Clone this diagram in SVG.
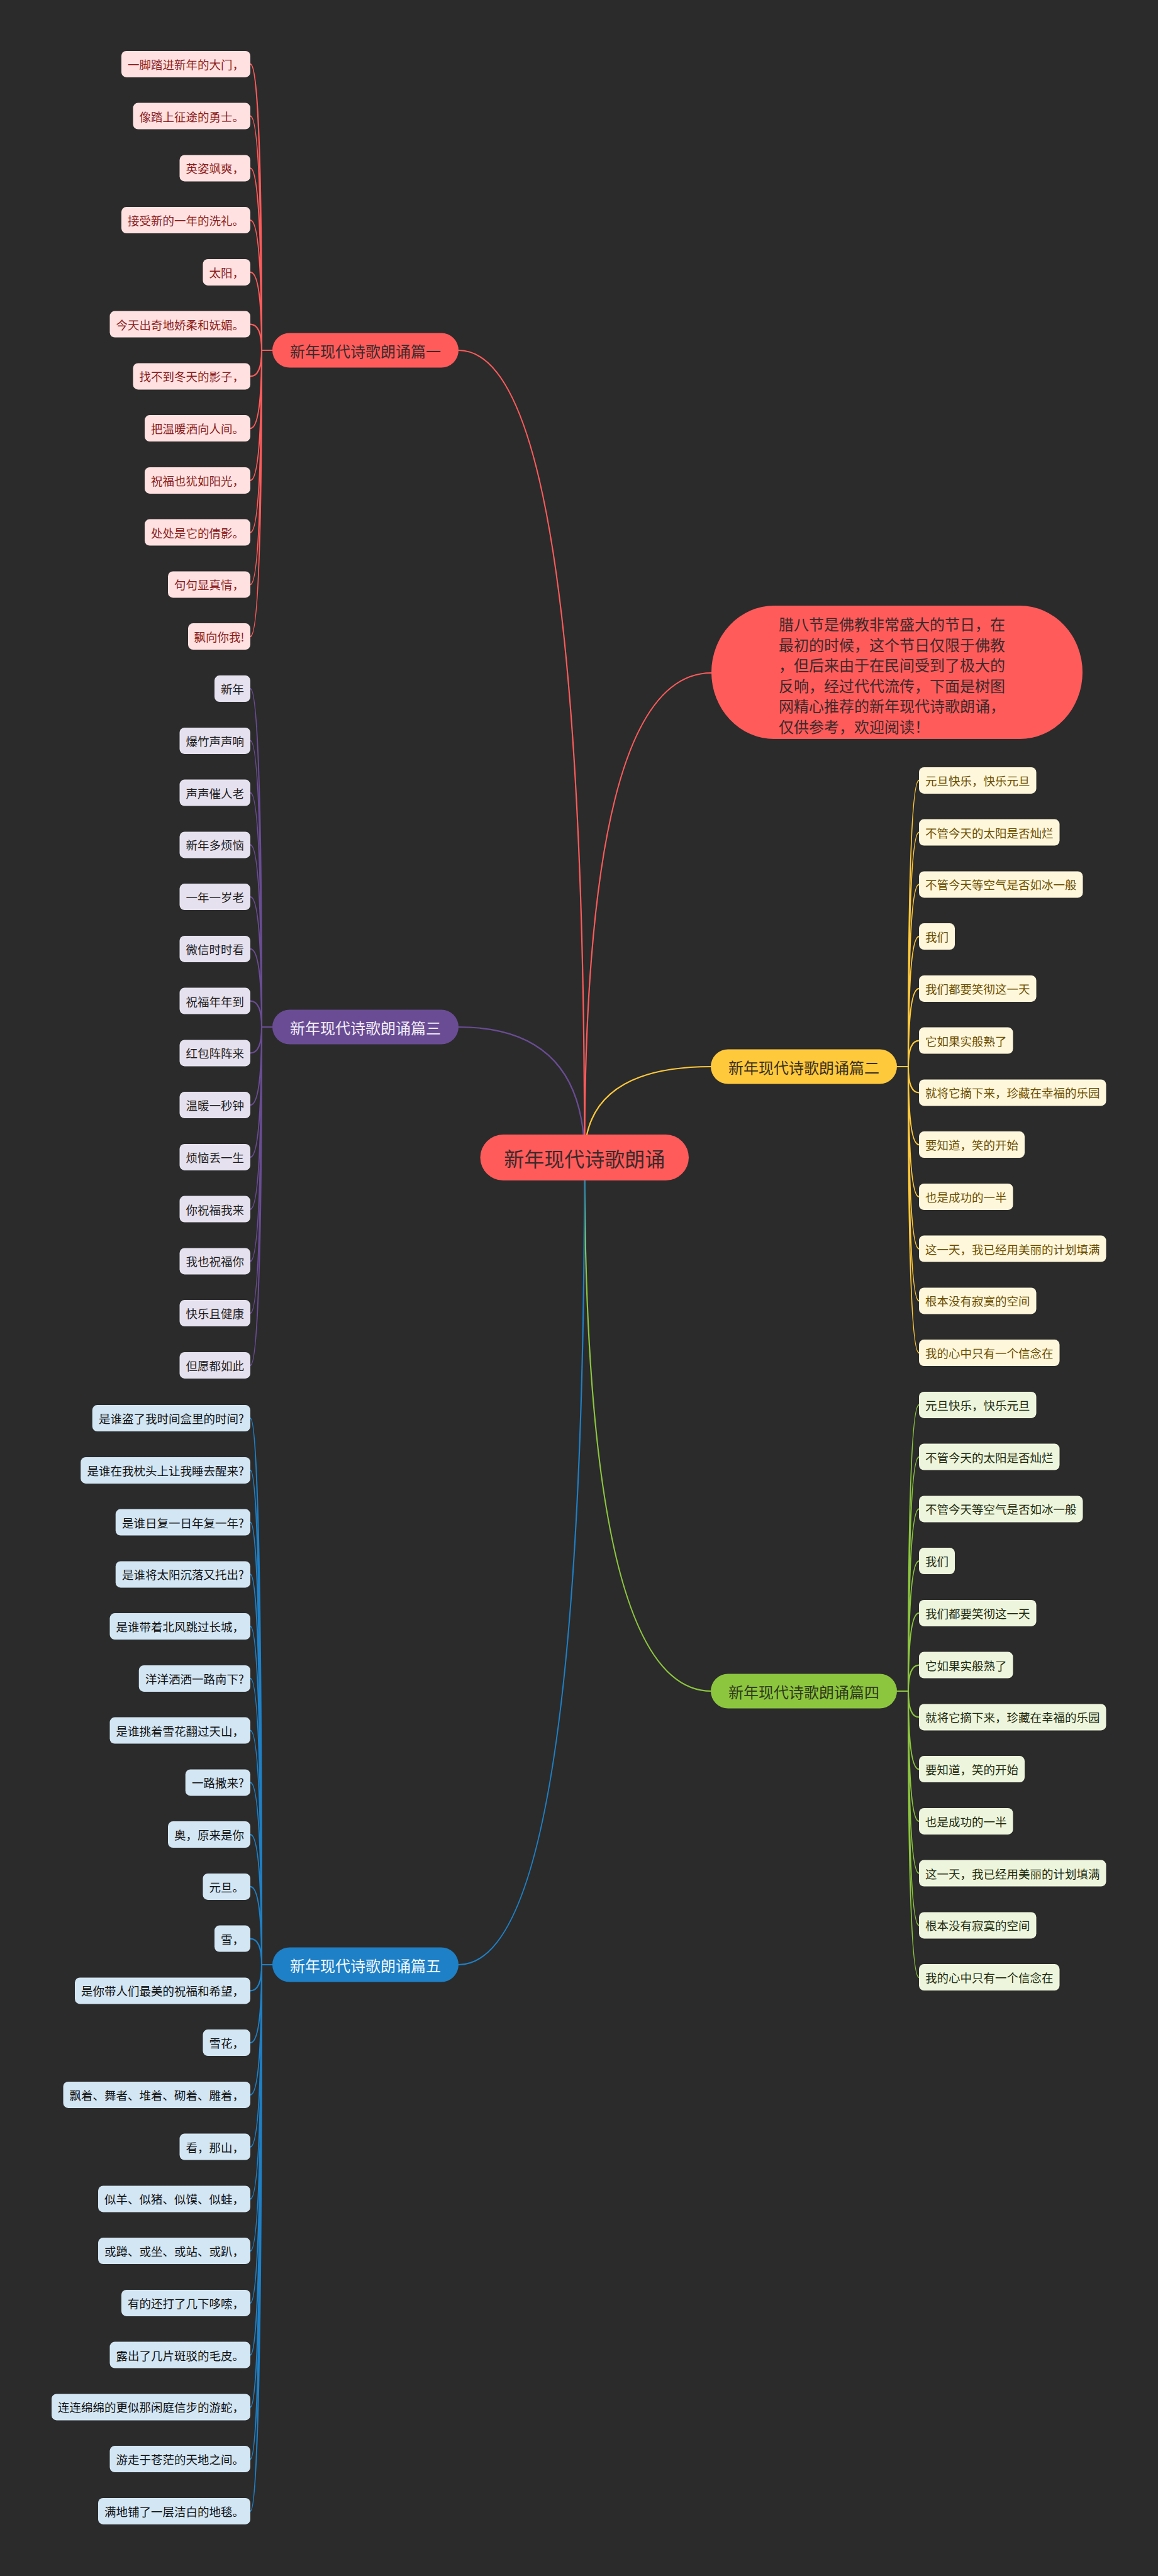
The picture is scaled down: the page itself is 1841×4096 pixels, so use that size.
<svg xmlns="http://www.w3.org/2000/svg" width="1841" height="4096" viewBox="0 0 1841 4096">
<style>
text{font-family:"Noto Sans CJK SC","Noto Sans",sans-serif;dominant-baseline:central;text-anchor:middle}
.lf text{font-size:18.5px}
.c{fill:none;stroke-width:2.2;stroke-linecap:round}
.cr{stroke:#FF5B5B}.cp{stroke:#6A4C94}.cy{stroke:#FFC93C}.cg{stroke:#8CC63F}.cb{stroke:#1E80C6}
.r rect{fill:#FFE1E1}.r text{fill:#8A1C1C}
.p rect{fill:#E6E1EE}.p text{fill:#1E1E1E}
.y rect{fill:#FFF7DB}.y text{fill:#6B4E00}
.g rect{fill:#EDF6DC}.g text{fill:#1E2A10}
.b rect{fill:#D3E6F4}.b text{fill:#111111}
.bn text{font-size:24px}
</style>
<rect width="1841" height="4096" fill="#2B2B2B"/>
<g id="connectors">
<path class="c cr" d="M929.3 1840.5Q929.3 557 729 557"/>
<path class="c cr" d="M929.3 1840.5Q929.3 1070 1131 1070"/>
<path class="c cp" d="M929.3 1840.5Q929.3 1633 729 1633"/>
<path class="c cy" d="M929.3 1840.5Q929.3 1696 1131 1696"/>
<path class="c cg" d="M929.3 1840.5Q929.3 2689 1131 2689"/>
<path class="c cb" d="M929.3 1840.5Q929.3 3124 729 3124"/>
<path class="c cr" d="M433 557H416M416 557Q416 101.9 398 101.9M416 557Q416 184.6 398 184.6M416 557Q416 267.4 398 267.4M416 557Q416 350.1 398 350.1M416 557Q416 432.9 398 432.9M416 557Q416 515.6 398 515.6M416 557Q416 598.4 398 598.4M416 557Q416 681.1 398 681.1M416 557Q416 763.9 398 763.9M416 557Q416 846.6 398 846.6M416 557Q416 929.4 398 929.4M416 557Q416 1012.1 398 1012.1"/>
<path class="c cp" d="M433 1633H416M416 1633Q416 1095.1 398 1095.1M416 1633Q416 1177.9 398 1177.9M416 1633Q416 1260.6 398 1260.6M416 1633Q416 1343.4 398 1343.4M416 1633Q416 1426.1 398 1426.1M416 1633Q416 1508.9 398 1508.9M416 1633Q416 1591.6 398 1591.6M416 1633Q416 1674.4 398 1674.4M416 1633Q416 1757.1 398 1757.1M416 1633Q416 1839.9 398 1839.9M416 1633Q416 1922.6 398 1922.6M416 1633Q416 2005.4 398 2005.4M416 1633Q416 2088.1 398 2088.1M416 1633Q416 2170.9 398 2170.9"/>
<path class="c cy" d="M1426 1696H1444M1444 1696Q1444 1240.9 1461 1240.9M1444 1696Q1444 1323.6 1461 1323.6M1444 1696Q1444 1406.4 1461 1406.4M1444 1696Q1444 1489.1 1461 1489.1M1444 1696Q1444 1571.9 1461 1571.9M1444 1696Q1444 1654.6 1461 1654.6M1444 1696Q1444 1737.4 1461 1737.4M1444 1696Q1444 1820.1 1461 1820.1M1444 1696Q1444 1902.9 1461 1902.9M1444 1696Q1444 1985.6 1461 1985.6M1444 1696Q1444 2068.4 1461 2068.4M1444 1696Q1444 2151.1 1461 2151.1"/>
<path class="c cg" d="M1426 2689H1444M1444 2689Q1444 2233.9 1461 2233.9M1444 2689Q1444 2316.6 1461 2316.6M1444 2689Q1444 2399.4 1461 2399.4M1444 2689Q1444 2482.1 1461 2482.1M1444 2689Q1444 2564.9 1461 2564.9M1444 2689Q1444 2647.6 1461 2647.6M1444 2689Q1444 2730.4 1461 2730.4M1444 2689Q1444 2813.1 1461 2813.1M1444 2689Q1444 2895.9 1461 2895.9M1444 2689Q1444 2978.6 1461 2978.6M1444 2689Q1444 3061.4 1461 3061.4M1444 2689Q1444 3144.1 1461 3144.1"/>
<path class="c cb" d="M433 3124H416M416 3124Q416 2255.1 398 2255.1M416 3124Q416 2337.9 398 2337.9M416 3124Q416 2420.6 398 2420.6M416 3124Q416 2503.4 398 2503.4M416 3124Q416 2586.1 398 2586.1M416 3124Q416 2668.9 398 2668.9M416 3124Q416 2751.6 398 2751.6M416 3124Q416 2834.4 398 2834.4M416 3124Q416 2917.1 398 2917.1M416 3124Q416 2999.9 398 2999.9M416 3124Q416 3082.6 398 3082.6M416 3124Q416 3165.4 398 3165.4M416 3124Q416 3248.1 398 3248.1M416 3124Q416 3330.9 398 3330.9M416 3124Q416 3413.6 398 3413.6M416 3124Q416 3496.4 398 3496.4M416 3124Q416 3579.1 398 3579.1M416 3124Q416 3661.9 398 3661.9M416 3124Q416 3744.6 398 3744.6M416 3124Q416 3827.4 398 3827.4M416 3124Q416 3910.1 398 3910.1M416 3124Q416 3992.9 398 3992.9"/>
</g>
<g id="root"><rect x="763.5" y="1804" width="331.5" height="73" rx="36.5" fill="#FF5B5B"/><text x="929.3" y="1840.5" font-size="32" fill="#3A2A2A">新年现代诗歌朗诵</text></g>
<g id="intro"><rect x="1131" y="963" width="590" height="212" rx="100" ry="106" fill="#FF5B5B"/>
<text font-size="24" fill="#3A2A2A" style="text-anchor:start"><tspan x="1238" y="991">腊八节是佛教非常盛大的节日，在</tspan><tspan x="1238" y="1023.5">最初的时候，这个节日仅限于佛教</tspan><tspan x="1238" y="1056">，但后来由于在民间受到了极大的</tspan><tspan x="1238" y="1088.5">反响，经过代代流传，下面是树图</tspan><tspan x="1238" y="1121">网精心推荐的新年现代诗歌朗诵，</tspan><tspan x="1238" y="1153.5">仅供参考，欢迎阅读！</tspan></text></g>
<g id="b1" class="bn"><rect x="433" y="529.5" width="296" height="55" rx="27.5" fill="#FF5B5B"/><text x="581" y="557" fill="#3A2A2A">新年现代诗歌朗诵篇一</text></g>
<g id="b3" class="bn"><rect x="433" y="1605.5" width="296" height="55" rx="27.5" fill="#6A4C94"/><text x="581" y="1633" fill="#F2EEF8">新年现代诗歌朗诵篇三</text></g>
<g id="b5" class="bn"><rect x="433" y="3096.5" width="296" height="55" rx="27.5" fill="#1E80C6"/><text x="581" y="3124" fill="#F2F8FF">新年现代诗歌朗诵篇五</text></g>
<g id="b2" class="bn"><rect x="1130" y="1668.5" width="296" height="55" rx="27.5" fill="#FFC93C"/><text x="1278" y="1696" fill="#3A3020">新年现代诗歌朗诵篇二</text></g>
<g id="b4" class="bn"><rect x="1130" y="2661.5" width="296" height="55" rx="27.5" fill="#8CC63F"/><text x="1278" y="2689" fill="#2F3A1A">新年现代诗歌朗诵篇四</text></g>
<g id="b1-leaves">
<g id="b1-1" class="lf r"><rect x="193" y="80.9" width="205" height="42" rx="8"/><text x="295.5" y="101.9">一脚踏进新年的大门，</text></g>
<g id="b1-2" class="lf r"><rect x="211.5" y="163.6" width="186.5" height="42" rx="8"/><text x="304.75" y="184.6">像踏上征途的勇士。</text></g>
<g id="b1-3" class="lf r"><rect x="285.5" y="246.4" width="112.5" height="42" rx="8"/><text x="341.75" y="267.4">英姿飒爽，</text></g>
<g id="b1-4" class="lf r"><rect x="193" y="329.1" width="205" height="42" rx="8"/><text x="295.5" y="350.1">接受新的一年的洗礼。</text></g>
<g id="b1-5" class="lf r"><rect x="322.5" y="411.9" width="75.5" height="42" rx="8"/><text x="360.25" y="432.9">太阳，</text></g>
<g id="b1-6" class="lf r"><rect x="174.5" y="494.6" width="223.5" height="42" rx="8"/><text x="286.25" y="515.6">今天出奇地娇柔和妩媚。</text></g>
<g id="b1-7" class="lf r"><rect x="211.5" y="577.4" width="186.5" height="42" rx="8"/><text x="304.75" y="598.4">找不到冬天的影子，</text></g>
<g id="b1-8" class="lf r"><rect x="230" y="660.1" width="168" height="42" rx="8"/><text x="314" y="681.1">把温暖洒向人间。</text></g>
<g id="b1-9" class="lf r"><rect x="230" y="742.9" width="168" height="42" rx="8"/><text x="314" y="763.9">祝福也犹如阳光，</text></g>
<g id="b1-10" class="lf r"><rect x="230" y="825.6" width="168" height="42" rx="8"/><text x="314" y="846.6">处处是它的倩影。</text></g>
<g id="b1-11" class="lf r"><rect x="267" y="908.4" width="131" height="42" rx="8"/><text x="332.5" y="929.4">句句显真情，</text></g>
<g id="b1-12" class="lf r"><rect x="299" y="991.1" width="99" height="42" rx="8"/><text x="348.5" y="1012.1">飘向你我!</text></g>
</g>
<g id="b3-leaves">
<g id="b3-1" class="lf p"><rect x="341" y="1074.1" width="57" height="42" rx="8"/><text x="369.5" y="1095.1">新年</text></g>
<g id="b3-2" class="lf p"><rect x="285.5" y="1156.9" width="112.5" height="42" rx="8"/><text x="341.75" y="1177.9">爆竹声声响</text></g>
<g id="b3-3" class="lf p"><rect x="285.5" y="1239.6" width="112.5" height="42" rx="8"/><text x="341.75" y="1260.6">声声催人老</text></g>
<g id="b3-4" class="lf p"><rect x="285.5" y="1322.4" width="112.5" height="42" rx="8"/><text x="341.75" y="1343.4">新年多烦恼</text></g>
<g id="b3-5" class="lf p"><rect x="285.5" y="1405.1" width="112.5" height="42" rx="8"/><text x="341.75" y="1426.1">一年一岁老</text></g>
<g id="b3-6" class="lf p"><rect x="285.5" y="1487.9" width="112.5" height="42" rx="8"/><text x="341.75" y="1508.9">微信时时看</text></g>
<g id="b3-7" class="lf p"><rect x="285.5" y="1570.6" width="112.5" height="42" rx="8"/><text x="341.75" y="1591.6">祝福年年到</text></g>
<g id="b3-8" class="lf p"><rect x="285.5" y="1653.4" width="112.5" height="42" rx="8"/><text x="341.75" y="1674.4">红包阵阵来</text></g>
<g id="b3-9" class="lf p"><rect x="285.5" y="1736.1" width="112.5" height="42" rx="8"/><text x="341.75" y="1757.1">温暖一秒钟</text></g>
<g id="b3-10" class="lf p"><rect x="285.5" y="1818.9" width="112.5" height="42" rx="8"/><text x="341.75" y="1839.9">烦恼丢一生</text></g>
<g id="b3-11" class="lf p"><rect x="285.5" y="1901.6" width="112.5" height="42" rx="8"/><text x="341.75" y="1922.6">你祝福我来</text></g>
<g id="b3-12" class="lf p"><rect x="285.5" y="1984.4" width="112.5" height="42" rx="8"/><text x="341.75" y="2005.4">我也祝福你</text></g>
<g id="b3-13" class="lf p"><rect x="285.5" y="2067.1" width="112.5" height="42" rx="8"/><text x="341.75" y="2088.1">快乐且健康</text></g>
<g id="b3-14" class="lf p"><rect x="285.5" y="2149.9" width="112.5" height="42" rx="8"/><text x="341.75" y="2170.9">但愿都如此</text></g>
</g>
<g id="b2-leaves">
<g id="b2-1" class="lf y"><rect x="1461" y="1219.9" width="186.5" height="42" rx="8"/><text x="1554.25" y="1240.9">元旦快乐，快乐元旦</text></g>
<g id="b2-2" class="lf y"><rect x="1461" y="1302.6" width="223.5" height="42" rx="8"/><text x="1572.75" y="1323.6">不管今天的太阳是否灿烂</text></g>
<g id="b2-3" class="lf y"><rect x="1461" y="1385.4" width="260.5" height="42" rx="8"/><text x="1591.25" y="1406.4">不管今天等空气是否如冰一般</text></g>
<g id="b2-4" class="lf y"><rect x="1461" y="1468.1" width="57" height="42" rx="8"/><text x="1489.5" y="1489.1">我们</text></g>
<g id="b2-5" class="lf y"><rect x="1461" y="1550.9" width="186.5" height="42" rx="8"/><text x="1554.25" y="1571.9">我们都要笑彻这一天</text></g>
<g id="b2-6" class="lf y"><rect x="1461" y="1633.6" width="149.5" height="42" rx="8"/><text x="1535.75" y="1654.6">它如果实般熟了</text></g>
<g id="b2-7" class="lf y"><rect x="1461" y="1716.4" width="297.5" height="42" rx="8"/><text x="1609.75" y="1737.4">就将它摘下来，珍藏在幸福的乐园</text></g>
<g id="b2-8" class="lf y"><rect x="1461" y="1799.1" width="168" height="42" rx="8"/><text x="1545" y="1820.1">要知道，笑的开始</text></g>
<g id="b2-9" class="lf y"><rect x="1461" y="1881.9" width="149.5" height="42" rx="8"/><text x="1535.75" y="1902.9">也是成功的一半</text></g>
<g id="b2-10" class="lf y"><rect x="1461" y="1964.6" width="297.5" height="42" rx="8"/><text x="1609.75" y="1985.6">这一天，我已经用美丽的计划填满</text></g>
<g id="b2-11" class="lf y"><rect x="1461" y="2047.4" width="186.5" height="42" rx="8"/><text x="1554.25" y="2068.4">根本没有寂寞的空间</text></g>
<g id="b2-12" class="lf y"><rect x="1461" y="2130.1" width="223.5" height="42" rx="8"/><text x="1572.75" y="2151.1">我的心中只有一个信念在</text></g>
</g>
<g id="b4-leaves">
<g id="b4-1" class="lf g"><rect x="1461" y="2212.9" width="186.5" height="42" rx="8"/><text x="1554.25" y="2233.9">元旦快乐，快乐元旦</text></g>
<g id="b4-2" class="lf g"><rect x="1461" y="2295.6" width="223.5" height="42" rx="8"/><text x="1572.75" y="2316.6">不管今天的太阳是否灿烂</text></g>
<g id="b4-3" class="lf g"><rect x="1461" y="2378.4" width="260.5" height="42" rx="8"/><text x="1591.25" y="2399.4">不管今天等空气是否如冰一般</text></g>
<g id="b4-4" class="lf g"><rect x="1461" y="2461.1" width="57" height="42" rx="8"/><text x="1489.5" y="2482.1">我们</text></g>
<g id="b4-5" class="lf g"><rect x="1461" y="2543.9" width="186.5" height="42" rx="8"/><text x="1554.25" y="2564.9">我们都要笑彻这一天</text></g>
<g id="b4-6" class="lf g"><rect x="1461" y="2626.6" width="149.5" height="42" rx="8"/><text x="1535.75" y="2647.6">它如果实般熟了</text></g>
<g id="b4-7" class="lf g"><rect x="1461" y="2709.4" width="297.5" height="42" rx="8"/><text x="1609.75" y="2730.4">就将它摘下来，珍藏在幸福的乐园</text></g>
<g id="b4-8" class="lf g"><rect x="1461" y="2792.1" width="168" height="42" rx="8"/><text x="1545" y="2813.1">要知道，笑的开始</text></g>
<g id="b4-9" class="lf g"><rect x="1461" y="2874.9" width="149.5" height="42" rx="8"/><text x="1535.75" y="2895.9">也是成功的一半</text></g>
<g id="b4-10" class="lf g"><rect x="1461" y="2957.6" width="297.5" height="42" rx="8"/><text x="1609.75" y="2978.6">这一天，我已经用美丽的计划填满</text></g>
<g id="b4-11" class="lf g"><rect x="1461" y="3040.4" width="186.5" height="42" rx="8"/><text x="1554.25" y="3061.4">根本没有寂寞的空间</text></g>
<g id="b4-12" class="lf g"><rect x="1461" y="3123.1" width="223.5" height="42" rx="8"/><text x="1572.75" y="3144.1">我的心中只有一个信念在</text></g>
</g>
<g id="b5-leaves">
<g id="b5-1" class="lf b"><rect x="146.75" y="2234.1" width="251.25" height="42" rx="8"/><text x="272.4" y="2255.1">是谁盗了我时间盒里的时间?</text></g>
<g id="b5-2" class="lf b"><rect x="128.25" y="2316.9" width="269.75" height="42" rx="8"/><text x="263.1" y="2337.9">是谁在我枕头上让我睡去醒来?</text></g>
<g id="b5-3" class="lf b"><rect x="183.75" y="2399.6" width="214.25" height="42" rx="8"/><text x="290.9" y="2420.6">是谁日复一日年复一年?</text></g>
<g id="b5-4" class="lf b"><rect x="183.75" y="2482.4" width="214.25" height="42" rx="8"/><text x="290.9" y="2503.4">是谁将太阳沉落又托出?</text></g>
<g id="b5-5" class="lf b"><rect x="174.5" y="2565.1" width="223.5" height="42" rx="8"/><text x="286.25" y="2586.1">是谁带着北风跳过长城，</text></g>
<g id="b5-6" class="lf b"><rect x="220.75" y="2647.9" width="177.25" height="42" rx="8"/><text x="309.4" y="2668.9">洋洋洒洒一路南下?</text></g>
<g id="b5-7" class="lf b"><rect x="174.5" y="2730.6" width="223.5" height="42" rx="8"/><text x="286.25" y="2751.6">是谁挑着雪花翻过天山，</text></g>
<g id="b5-8" class="lf b"><rect x="294.75" y="2813.4" width="103.25" height="42" rx="8"/><text x="346.4" y="2834.4">一路撒来?</text></g>
<g id="b5-9" class="lf b"><rect x="267" y="2896.1" width="131" height="42" rx="8"/><text x="332.5" y="2917.1">奥，原来是你</text></g>
<g id="b5-10" class="lf b"><rect x="322.5" y="2978.9" width="75.5" height="42" rx="8"/><text x="360.25" y="2999.9">元旦。</text></g>
<g id="b5-11" class="lf b"><rect x="341" y="3061.6" width="57" height="42" rx="8"/><text x="369.5" y="3082.6">雪，</text></g>
<g id="b5-12" class="lf b"><rect x="119" y="3144.4" width="279" height="42" rx="8"/><text x="258.5" y="3165.4">是你带人们最美的祝福和希望，</text></g>
<g id="b5-13" class="lf b"><rect x="322.5" y="3227.1" width="75.5" height="42" rx="8"/><text x="360.25" y="3248.1">雪花，</text></g>
<g id="b5-14" class="lf b"><rect x="100.5" y="3309.9" width="297.5" height="42" rx="8"/><text x="249.25" y="3330.9">飘着、舞者、堆着、砌着、雕着，</text></g>
<g id="b5-15" class="lf b"><rect x="285.5" y="3392.6" width="112.5" height="42" rx="8"/><text x="341.75" y="3413.6">看，那山，</text></g>
<g id="b5-16" class="lf b"><rect x="156" y="3475.4" width="242" height="42" rx="8"/><text x="277" y="3496.4">似羊、似猪、似馍、似蛙，</text></g>
<g id="b5-17" class="lf b"><rect x="156" y="3558.1" width="242" height="42" rx="8"/><text x="277" y="3579.1">或蹲、或坐、或站、或趴，</text></g>
<g id="b5-18" class="lf b"><rect x="193" y="3640.9" width="205" height="42" rx="8"/><text x="295.5" y="3661.9">有的还打了几下哆嗦，</text></g>
<g id="b5-19" class="lf b"><rect x="174.5" y="3723.6" width="223.5" height="42" rx="8"/><text x="286.25" y="3744.6">露出了几片斑驳的毛皮。</text></g>
<g id="b5-20" class="lf b"><rect x="82" y="3806.4" width="316" height="42" rx="8"/><text x="240" y="3827.4">连连绵绵的更似那闲庭信步的游蛇，</text></g>
<g id="b5-21" class="lf b"><rect x="174.5" y="3889.1" width="223.5" height="42" rx="8"/><text x="286.25" y="3910.1">游走于苍茫的天地之间。</text></g>
<g id="b5-22" class="lf b"><rect x="156" y="3971.9" width="242" height="42" rx="8"/><text x="277" y="3992.9">满地铺了一层洁白的地毯。</text></g>
</g>
</svg>
